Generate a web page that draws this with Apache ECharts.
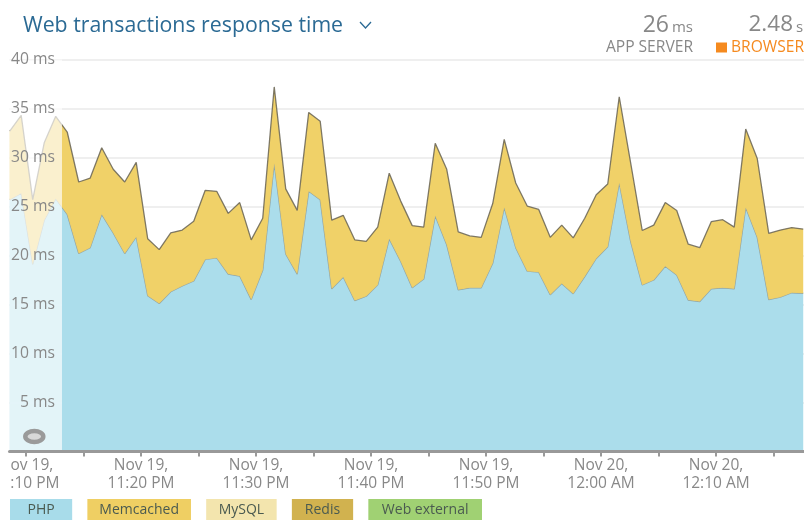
<!DOCTYPE html>
<html><head><meta charset="utf-8">
<style>html,body{margin:0;padding:0;background:#fff}#c{width:804px;height:520px}</style>
<script src="https://cdn.jsdelivr.net/npm/echarts@6/dist/echarts.min.js"></script>
</head><body><div id="c"></div>
<script>
const FONT = '"Open Sans"';
const MIN = 60000;
const firstSample = Date.UTC(2016,10,19,23,8,35);
const php = [25.7,26.35,19.1,23.6,25.8,24.2,20.2,20.8,24.2,22.3,20.2,21.9,15.9,15.1,16.3,16.9,17.4,19.6,19.75,18.1,17.9,15.5,18.5,29.4,20.15,18.1,26.55,25.7,16.6,17.8,15.4,15.85,17.0,21.7,19.4,16.7,17.6,24.05,21.1,16.5,16.7,16.7,19.2,24.9,20.8,18.4,18.3,16.0,17.15,16.1,17.85,19.7,20.9,27.4,21.4,17.0,17.5,18.9,18.0,15.45,15.3,16.6,16.7,16.6,24.9,21.85,15.5,15.75,16.2,16.15];
const memcached = [7.0,7.95,6.6,7.9,8.4,8.4,7.3,7.1,6.8,6.5,7.3,7.6,5.8,5.5,6.0,5.7,6.1,7.05,6.8,6.2,7.5,6.1,5.3,7.8,6.65,6.5,8.05,8.0,7.0,6.3,6.2,5.6,5.9,6.7,6.15,6.35,5.3,7.4,7.7,5.9,5.3,5.15,6.1,6.95,6.6,6.65,6.4,5.85,5.95,5.7,5.95,6.5,6.4,8.8,8.0,5.55,5.6,6.5,6.6,5.7,5.5,6.85,6.95,6.3,8.0,8.05,6.75,6.85,6.65,6.55];
const mysql = [];
const redis = [];
const webExternal = [];
const tickTimes = [Date.UTC(2016,10,19,23,10),Date.UTC(2016,10,19,23,20),Date.UTC(2016,10,19,23,30),Date.UTC(2016,10,19,23,40),Date.UTC(2016,10,19,23,50),Date.UTC(2016,10,20,0,0),Date.UTC(2016,10,20,0,10)];
const tickLabels = ['Nov 19,\n11:10 PM','Nov 19,\n11:20 PM','Nov 19,\n11:30 PM','Nov 19,\n11:40 PM','Nov 19,\n11:50 PM','Nov 20,\n12:00 AM','Nov 20,\n12:10 AM'];
const legendNames = ['PHP','Memcached','MySQL','Redis','Web external'];
const legendColors = ['#a8dcea','#efcf63','#f3e5ae','#d1b24f','#a0d173'];
const legendPads = [17.5,12,12.5,13,13.5];
const withTime = vals => vals.map((v,i)=>[firstSample+i*MIN,v]);
const xMin = tickTimes[0]-1.435*MIN, xMax = tickTimes[0]+67.65*MIN, overlayEnd = tickTimes[0]+3.13*MIN;
const chart = echarts.init(document.getElementById('c'));
chart.setOption({
  animation:false,
  useUTC:true,
  textStyle:{fontFamily:FONT},
  grid:{left:9.5,right:0,top:59.5,height:392,containLabel:false,outerBoundsMode:'none'},
  title:{text:'Web transactions response time',left:18,top:10,textStyle:{fontFamily:FONT,fontSize:21.3,fontWeight:'normal',color:'#2b6a94'}},
  legend:{left:5,top:499,padding:0,itemGap:10.2,itemWidth:0,itemHeight:0,selectedMode:false,
    data:legendNames.map((n,i)=>({name:n,icon:'rect',textStyle:{color:'#4a5a50',fontFamily:FONT,fontSize:14,backgroundColor:legendColors[i],padding:[3,legendPads[i],6,legendPads[i]]}}))},
  xAxis:{type:'time',min:xMin,max:xMax,minInterval:10*MIN,maxInterval:10*MIN,z:6,splitLine:{show:false},
    axisLine:{show:true,onZero:false,lineStyle:{color:'#999',width:3}},
    axisTick:{show:true,length:5,lineStyle:{color:'#999',width:2}},
    axisLabel:{formatter:v=>{const i=tickTimes.indexOf(v);return i<0?'':tickLabels[i];},color:'#888',fontSize:15.5,lineHeight:18,margin:5,fontFamily:FONT,hideOverlap:false}},
  yAxis:[
    {type:'value',min:0,max:40,interval:5,z:10,position:'left',axisLine:{show:false},axisTick:{show:false},splitLine:{show:false},
     axisLabel:{inside:true,margin:45.5,align:'right',color:'#888',fontSize:15.7,fontFamily:FONT,formatter:v=>v===0?'':v+' ms'}},
    {type:'value',min:0,max:40,interval:5,z:0,position:'right',axisLine:{show:false},axisTick:{show:false},axisLabel:{show:false},
     splitLine:{show:true,lineStyle:{color:'#efefef',width:2}}}
  ],
  series:[
    {name:'PHP',type:'line',stack:'t',data:withTime(php),symbol:'none',z:2,lineStyle:{color:'rgba(135,145,140,.75)',width:1.3},areaStyle:{color:'#a8dcea',opacity:.97},itemStyle:{color:legendColors[0]}},
    {name:'Memcached',type:'line',stack:'t',data:withTime(memcached),symbol:'none',z:3,lineStyle:{color:'rgba(105,100,85,.85)',width:1.3},areaStyle:{color:'#efcf63',opacity:.97},itemStyle:{color:legendColors[1]}},
    {name:'MySQL',type:'line',data:mysql,symbol:'none',itemStyle:{color:legendColors[2]}},
    {name:'Redis',type:'line',data:redis,symbol:'none',itemStyle:{color:legendColors[3]}},
    {name:'Web external',type:'line',data:webExternal,symbol:'none',itemStyle:{color:legendColors[4]}},
    {name:'overlay',type:'line',data:[],z:5,silent:true,
     markArea:{z:5,silent:true,itemStyle:{color:'rgba(255,255,255,.68)'},data:[[{xAxis:xMin,yAxis:0},{xAxis:overlayEnd,yAxis:40}]]}}
  ],
  graphic:[
    {type:'rect',z:30,shape:{x:0,y:455,width:9.5,height:40},style:{fill:'#fff'}},
    {type:'ellipse',z:30,shape:{cx:34.3,cy:436.5,rx:9,ry:5.5},style:{fill:'#d8d8d8',stroke:'#9a9a9a',lineWidth:4.5}},
    {type:'polyline',z:30,shape:{points:[[360,22],[365.5,28],[371,22]]},style:{stroke:'#2b6a94',lineWidth:1.3,fill:null}},
    {type:'text',z:30,style:{text:'26',x:669,y:25,align:'right',verticalAlign:'middle',fontFamily:FONT,fontSize:23,fill:'#888'}},
    {type:'text',z:30,style:{text:'ms',x:693,y:28,align:'right',verticalAlign:'middle',fontFamily:FONT,fontSize:15,fill:'#888'}},
    {type:'text',z:30,style:{text:'APP SERVER',x:693,y:48,align:'right',verticalAlign:'middle',fontFamily:FONT,fontSize:15.6,fill:'#888'}},
    {type:'text',z:30,style:{text:'2.48',x:793,y:25,align:'right',verticalAlign:'middle',fontFamily:FONT,fontSize:22.5,fill:'#888'}},
    {type:'text',z:30,style:{text:'s',x:796,y:28,align:'left',verticalAlign:'middle',fontFamily:FONT,fontSize:15,fill:'#888'}},
    {type:'rect',z:30,shape:{x:716,y:42.5,width:11,height:10},style:{fill:'#f58a1f'}},
    {type:'text',z:30,style:{text:'BROWSER',x:804,y:48,align:'right',verticalAlign:'middle',fontFamily:FONT,fontSize:15.6,fill:'#f58a1f'}}
  ]
});
</script></body></html>
